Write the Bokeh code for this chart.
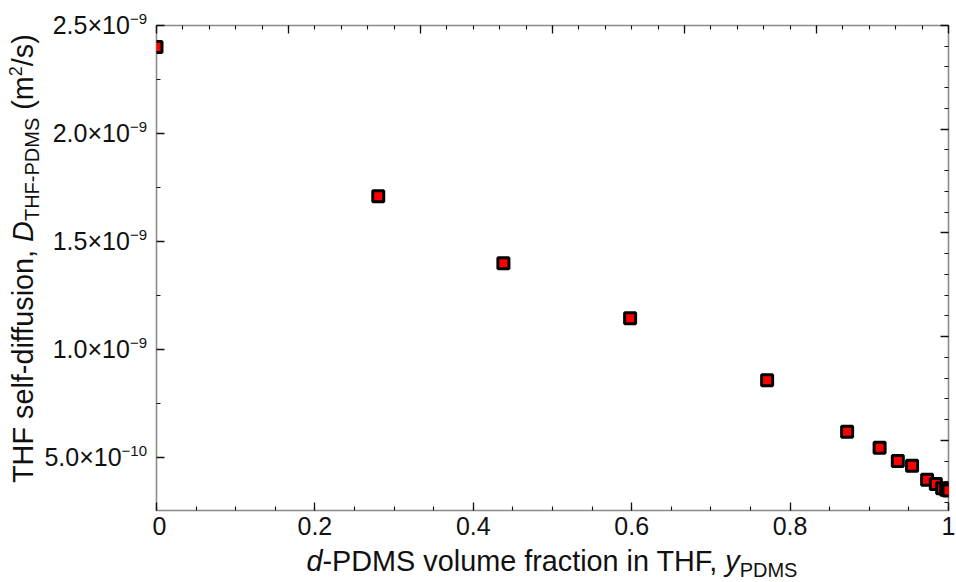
from bokeh.plotting import figure
from bokeh.layouts import row, column
from bokeh.models import LinearAxis, FixedTicker, Range1d, Div
from bokeh.embed import file_html
from bokeh.resources import INLINE

# ---------------- data ----------------
y_pdms = [0.0, 0.280, 0.438, 0.598, 0.771, 0.872, 0.913, 0.936, 0.954, 0.973, 0.984, 0.992, 0.997, 1.0]
d_thf = [2.40e-9, 1.710e-9, 1.400e-9, 1.145e-9, 0.858e-9, 0.620e-9, 0.545e-9, 0.484e-9,
         0.462e-9, 0.397e-9, 0.378e-9, 0.358e-9, 0.351e-9, 0.347e-9]

x_major = [0.0, 0.2, 0.4, 0.6, 0.8, 1.0]
x_labels = ["0", "0.2", "0.4", "0.6", "0.8", "1"]
x_minor = [i * 0.05 for i in range(21)]
y_major = [5.0e-10, 1.0e-9, 1.5e-9, 2.0e-9, 2.5e-9]
y_mant = ["5.0×10", "1.0×10", "1.5×10", "2.0×10", "2.5×10"]
y_exp = ["−10", "−9", "−9", "−9", "−9"]
y_minor = [2.5e-10, 7.5e-10, 1.25e-9, 1.75e-9, 2.25e-9]
top_major = [k / 6 for k in range(7)]
top_minor = [k / 30 for k in range(31)]
right_major = [2.5e-9 - k * 0.48e-9 for k in range(6)]
right_minor = [2.5e-9 - j * 0.096e-9 for j in range(26)]

X_MIN, X_MAX = 0.0, 1.0
Y_MIN, Y_MAX = 2.55e-10, 2.5e-9

XLABEL_HTML = '<i>d</i>-PDMS volume fraction in THF, <i>y</i><span style="font-size:20px;position:relative;top:6px;">PDMS</span>'
YLABEL_HTML = ('THF self-diffusion, <i>D</i><span style="font-size:20px;position:relative;top:6px;">THF-PDMS</span>'
               ' (m<span style="font-size:18px;position:relative;top:-11px;">2</span>/s)')

FONT = "Liberation Sans"
INK = "#111111"

# layout geometry (pixels)
TOTAL_W, TOTAL_H = 956, 582
YDIV_W = 152
P_W = TOTAL_W - YDIV_W
P_H = 546
XDIV_H = TOTAL_H - P_H
BORDER_L, BORDER_R, BORDER_T, BORDER_B = 4, 8, 25, 36
FRAME_W = P_W - BORDER_L - BORDER_R
FRAME_H = P_H - BORDER_T - BORDER_B
LBL_SIZE = 28.8
TICK_SIZE = 25
EXP_SIZE = 15

# ---------------- main figure ----------------
p = figure(width=P_W, height=P_H, output_backend="svg", toolbar_location=None,
           x_range=Range1d(X_MIN, X_MAX), y_range=Range1d(Y_MIN, Y_MAX),
           x_axis_type=None, y_axis_type=None,
           min_border_left=BORDER_L, min_border_right=BORDER_R,
           min_border_top=BORDER_T, min_border_bottom=BORDER_B)
p.background_fill_color = "white"
p.border_fill_color = "white"
p.outline_line_color = "#8a8a8a"
p.outline_line_width = 1.6
p.xgrid.visible = False
p.ygrid.visible = False


def style_axis(ax, ticks, minor, labels=None):
    ax.ticker = FixedTicker(ticks=ticks, minor_ticks=minor)
    ax.axis_line_color = None
    ax.major_tick_in = 8
    ax.major_tick_out = 0
    ax.minor_tick_in = 4
    ax.minor_tick_out = 0
    ax.major_tick_line_color = INK
    ax.minor_tick_line_color = INK
    ax.major_tick_line_width = 1.3
    ax.minor_tick_line_width = 1.1
    if labels is None:
        ax.major_label_text_font_size = "0px"
        ax.major_label_standoff = 0
    else:
        ax.major_label_overrides = dict(zip(ticks, labels))
        ax.major_label_text_font = FONT
        ax.major_label_text_font_size = f"{TICK_SIZE}px"
        ax.major_label_text_color = INK


bottom = LinearAxis()
style_axis(bottom, x_major, x_minor, x_labels)
bottom.major_label_standoff = 6
p.add_layout(bottom, "below")

left = LinearAxis()
style_axis(left, y_major, y_minor)
p.add_layout(left, "left")

top = LinearAxis()
style_axis(top, top_major, top_minor)
p.add_layout(top, "above")

right = LinearAxis()
style_axis(right, right_major, right_minor)
p.add_layout(right, "right")

p.scatter(y_pdms, d_thf, marker="square", size=11, fill_color="#ff0000",
          line_color="black", line_width=3)

# ---------------- rich-text labels (superscripts, italics, subscripts) ----------------
font_css = f"font-family:'{FONT}';color:{INK};white-space:nowrap;"


def y_to_px(v):
    # same linear mapping as the figure's y scale, for tick-label placement
    return BORDER_T + (Y_MAX - v) / (Y_MAX - Y_MIN) * FRAME_H


tick_html = ""
for v, m, e in zip(y_major, y_mant, y_exp):
    tick_html += (
        f'<div style="position:absolute;right:5px;top:{y_to_px(v) - TICK_SIZE / 2:.1f}px;'
        f'font-size:{TICK_SIZE}px;line-height:{TICK_SIZE}px;{font_css}">{m}'
        f'<span style="font-size:{EXP_SIZE}px;position:relative;top:-9.5px;">{e}</span></div>')

ydiv = Div(width=YDIV_W, height=TOTAL_H, margin=0, text=(
    f'<div style="position:relative;width:{YDIV_W}px;height:{TOTAL_H}px;">'
    f'<div style="position:absolute;left:8.6px;top:483px;transform-origin:0 0;'
    f'transform:rotate(-90deg);font-size:{LBL_SIZE}px;line-height:1;{font_css}">{YLABEL_HTML}</div>'
    f'{tick_html}</div>'))

xdiv = Div(width=P_W, height=XDIV_H, margin=0, text=(
    f'<div style="position:relative;width:{P_W}px;height:{XDIV_H}px;">'
    f'<div style="position:absolute;left:{BORDER_L}px;width:{FRAME_W}px;top:0.6px;'
    f'text-align:center;font-size:{LBL_SIZE}px;line-height:1;{font_css}">{XLABEL_HTML}</div></div>'))

layout = row(ydiv, column(p, xdiv, spacing=0), spacing=0)
open("out.html", "w").write(file_html(layout, INLINE))
